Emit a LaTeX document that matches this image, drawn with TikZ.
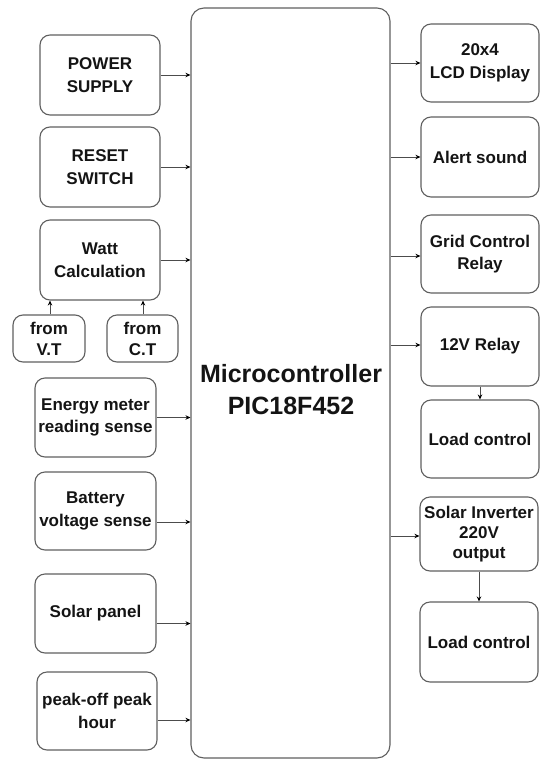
\documentclass[tikz,border=0pt]{standalone}
\usepackage{fontspec}
\setmainfont{Liberation Sans}
\usetikzlibrary{arrows.meta}
\definecolor{edge}{RGB}{95,95,95}
\definecolor{txt}{RGB}{20,20,20}
\tikzset{
  box/.style={draw=edge, line width=1.1pt, rounded corners=10pt, align=center,
    inner sep=0pt, text=txt, font=\bfseries\fontsize{17}{22.5}\selectfont},
  arr/.style={draw=edge!80!black, line width=0.9pt, -{Stealth[length=5pt,width=4.5pt,black]}}
}
\begin{document}
\begin{tikzpicture}[x=1pt,y=-1pt]
\useasboundingbox (0,0) rectangle (540,761);
% microcontroller
\node[box, rounded corners=13pt, minimum width=199pt, minimum height=750pt] (mc) at (290.5,383) {};
\node[text=txt, font=\bfseries\fontsize{25}{32}\selectfont, align=center] (mct) at (291,390) {Microcontroller\\PIC18F452};
% left column
\node[box, minimum width=120pt, minimum height=80pt] (ps) at (100,75) {POWER\\SUPPLY};
\node[box, minimum width=120pt, minimum height=80pt] (rs) at (100,167) {RESET\\SWITCH};
\node[box, minimum width=120pt, minimum height=80pt] (wc) at (100,260) {Watt\\Calculation};
\node[box, minimum width=72pt, minimum height=47pt, font=\bfseries\fontsize{17}{21}\selectfont] (vt) at (49,338.5) {from\\V.T};
\node[box, minimum width=71pt, minimum height=47pt, font=\bfseries\fontsize{17}{21}\selectfont] (ct) at (142.5,338.5) {from\\C.T};
\node[box, minimum width=121pt, minimum height=79pt] (em) at (95.5,417.5) {Energy meter\\reading sense};
\node[box, minimum width=121pt, minimum height=78pt] (bv) at (95.5,511) {Battery\\voltage sense};
\node[box, minimum width=121pt, minimum height=79pt] (sp) at (95.5,613.5) {Solar panel};
\node[box, minimum width=120pt, minimum height=78pt] (pk) at (97,711) {peak-off peak\\hour};
% right column
\node[box, minimum width=118pt, minimum height=78pt] (lcd) at (480,63) {20x4\\LCD Display};
\node[box, minimum width=118pt, minimum height=80pt] (al) at (480,157) {Alert sound};
\node[box, minimum width=118pt, minimum height=78pt] (gc) at (480,254) {Grid Control\\Relay};
\node[box, minimum width=118pt, minimum height=79pt] (r12) at (480,346.5) {12V Relay};
\node[box, minimum width=118pt, minimum height=78pt] (lc1) at (480,439) {Load control};
\node[box, minimum width=118pt, minimum height=74pt, font=\bfseries\fontsize{17}{20}\selectfont] (si) at (479,534) {Solar Inverter\\220V\\output};
\node[box, minimum width=118pt, minimum height=80pt] (lc2) at (479,642) {Load control};
% arrow anchor points
\coordinate (bvo) at ([yshift=-11pt]bv.east);
\coordinate (spo) at ([yshift=-10pt]sp.east);
\coordinate (pko) at ([yshift=-9pt]pk.east);
\coordinate (gci) at ([yshift=-2pt]gc.west);
\coordinate (r12i) at ([yshift=1.5pt]r12.west);
\coordinate (sii) at ([yshift=-2pt]si.west);
% left arrows
\draw[arr] (ps.east) -- (mc.west |- ps.east);
\draw[arr] (rs.east) -- (mc.west |- rs.east);
\draw[arr] (wc.east) -- (mc.west |- wc.east);
\draw[arr] (em.east) -- (mc.west |- em.east);
\draw[arr] (bvo) -- (mc.west |- bvo);
\draw[arr] (spo) -- (mc.west |- spo);
\draw[arr] (pko) -- (mc.west |- pko);
\draw[arr] (vt.north -| 50,0) -- (wc.south -| 50,0);
\draw[arr] (ct.north -| 143,0) -- (wc.south -| 143,0);
% right arrows
\draw[arr] (mc.east |- lcd.west) -- (lcd.west);
\draw[arr] (mc.east |- al.west) -- (al.west);
\draw[arr] (mc.east |- gci) -- (gci);
\draw[arr] (mc.east |- r12i) -- (r12i);
\draw[arr] (mc.east |- sii) -- (sii);
\draw[arr] (r12.south) -- (lc1.north);
\draw[arr] (si.south) -- (lc2.north);
\end{tikzpicture}
\end{document}
